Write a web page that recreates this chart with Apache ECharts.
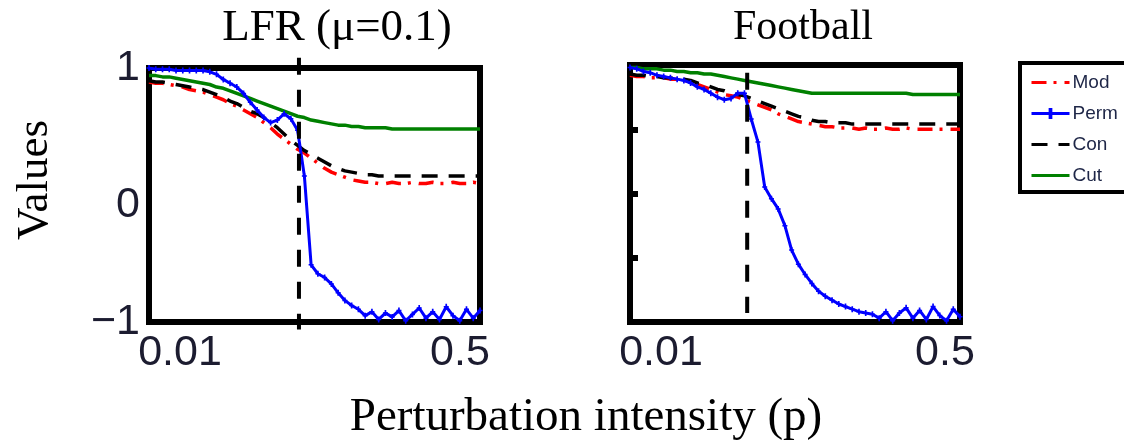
<!DOCTYPE html>
<html>
<head>
<meta charset="utf-8">
<script src="https://cdn.jsdelivr.net/npm/echarts@6/dist/echarts.min.js"></script>
<style>html,body{margin:0;padding:0;background:#fff}#c{width:1124px;height:441px}</style>
</head>
<body>
<div id="c"></div>
<script>
// ---- data ----
const pValues = [0.01,0.02,0.03,0.04,0.05,0.06,0.07,0.08,0.09,0.10,
  0.11,0.12,0.13,0.14,0.15,0.16,0.17,0.18,0.19,0.20,
  0.21,0.22,0.23,0.24,0.25,0.26,0.27,0.28,0.29,0.30,
  0.31,0.32,0.33,0.34,0.35,0.36,0.37,0.38,0.39,0.40,
  0.41,0.42,0.43,0.44,0.45,0.46,0.47,0.48,0.49,0.50];

const panelTitles = ['LFR (μ=0.1)', 'Football'];
const seriesNames = ['Mod', 'Perm', 'Con', 'Cut'];
const yTickValues = [-1, 0, 1];
const yTickLabels = ['−1', '0', '1'];
const xTickValues = [0.01, 0.5];
const xTickLabels = ['0.01', '0.5'];
const thresholdLFR = 0.232;
const thresholdFootball = 0.184;
const thresholdSpanLFR = [1.08, -1.06];
const thresholdSpanFootball = [0.94, -0.93];

const lfrMod = [0.89,0.88,0.88,0.87,0.86,0.85,0.83,0.82,0.81,0.79,
  0.77,0.75,0.72,0.70,0.67,0.64,0.61,0.57,0.53,0.48,
  0.44,0.40,0.36,0.33,0.29,0.25,0.21,0.18,0.16,0.14,
  0.12,0.11,0.10,0.10,0.09,0.09,0.10,0.09,0.09,0.10,
  0.09,0.09,0.10,0.09,0.09,0.10,0.09,0.09,0.10,0.09];
const lfrPerm = [1.00,0.99,0.99,0.99,0.98,0.98,0.98,0.98,0.98,0.97,
  0.95,0.91,0.88,0.85,0.80,0.73,0.67,0.61,0.57,0.59,
  0.64,0.60,0.51,0.15,-0.55,-0.62,-0.65,-0.70,-0.77,-0.83,
  -0.87,-0.90,-0.95,-0.92,-0.98,-0.93,-0.96,-0.91,-0.99,-0.94,
  -0.89,-0.97,-0.92,-0.98,-0.88,-0.95,-0.99,-0.90,-0.97,-0.91];
const lfrCon = [0.90,0.89,0.89,0.88,0.87,0.86,0.85,0.84,0.83,0.81,
  0.79,0.77,0.74,0.72,0.69,0.66,0.64,0.61,0.57,0.53,
  0.48,0.43,0.39,0.35,0.32,0.29,0.26,0.23,0.21,0.19,
  0.18,0.17,0.16,0.16,0.15,0.15,0.15,0.15,0.15,0.15,
  0.15,0.15,0.15,0.15,0.15,0.15,0.15,0.15,0.15,0.15];
const lfrCut = [0.94,0.94,0.93,0.93,0.92,0.91,0.90,0.89,0.88,0.87,
  0.85,0.84,0.82,0.80,0.78,0.76,0.74,0.72,0.70,0.68,
  0.66,0.64,0.62,0.61,0.59,0.58,0.57,0.56,0.55,0.55,
  0.54,0.54,0.53,0.53,0.53,0.53,0.52,0.52,0.52,0.52,
  0.52,0.52,0.52,0.52,0.52,0.52,0.52,0.52,0.52,0.52];

const fbMod = [0.92,0.91,0.91,0.90,0.90,0.90,0.89,0.89,0.88,0.87,
  0.85,0.83,0.81,0.79,0.77,0.76,0.75,0.73,0.71,0.69,
  0.67,0.65,0.62,0.60,0.58,0.56,0.55,0.54,0.53,0.52,
  0.52,0.51,0.51,0.51,0.50,0.51,0.50,0.50,0.51,0.50,
  0.50,0.51,0.50,0.50,0.50,0.50,0.50,0.50,0.50,0.50];
const fbPerm = [0.98,0.97,0.95,0.94,0.92,0.91,0.90,0.89,0.88,0.86,
  0.83,0.81,0.78,0.75,0.73,0.74,0.78,0.78,0.58,0.40,
  0.05,-0.04,-0.12,-0.25,-0.44,-0.55,-0.63,-0.70,-0.76,-0.80,
  -0.83,-0.86,-0.88,-0.90,-0.92,-0.93,-0.94,-0.97,-0.92,-0.99,
  -0.93,-0.89,-0.97,-0.91,-0.98,-0.88,-0.95,-0.99,-0.90,-0.96];
const fbCon = [0.93,0.92,0.92,0.91,0.91,0.90,0.90,0.89,0.89,0.88,
  0.86,0.85,0.83,0.81,0.80,0.78,0.77,0.76,0.74,0.72,
  0.70,0.68,0.66,0.64,0.62,0.60,0.59,0.57,0.56,0.56,
  0.55,0.55,0.55,0.54,0.54,0.54,0.54,0.54,0.54,0.54,
  0.54,0.54,0.54,0.54,0.54,0.54,0.54,0.54,0.54,0.54];
const fbCut = [0.98,0.98,0.97,0.97,0.97,0.96,0.96,0.95,0.95,0.94,
  0.94,0.93,0.93,0.92,0.91,0.90,0.89,0.88,0.87,0.86,
  0.85,0.84,0.83,0.82,0.81,0.80,0.79,0.78,0.78,0.78,
  0.78,0.78,0.78,0.78,0.78,0.78,0.78,0.78,0.78,0.78,
  0.78,0.78,0.77,0.77,0.77,0.77,0.77,0.77,0.77,0.77];

// ---- chart ----
const pair = arr => pValues.map((p, i) => [p, arr[i]]);
const SANS = '"Liberation Sans", Arial, sans-serif';
const SERIF = '"Liberation Serif", "Times New Roman", serif';
const TICK_COLOR = '#1c1c30';
const PLUS = 'path://M2,0h2v8h-2z M0,3h6v2h-6z';

const styles = {
  Mod:  {color: '#ff0000', lineStyle: {color: '#ff0000', width: 3.5, type: [15, 7, 3, 8]}, symbol: 'none'},
  Perm: {color: '#0000ff', lineStyle: {color: '#0000ff', width: 3}, symbol: PLUS, symbolSize: [5, 6], showSymbol: true, itemStyle: {color: '#0000ff'}},
  Con:  {color: '#000000', lineStyle: {color: '#000000', width: 3.5, type: [16, 11]}, symbol: 'none'},
  Cut:  {color: '#008000', lineStyle: {color: '#008000', width: 3.5}, symbol: 'none'}
};

function panelSeries(idx, arrs) {
  const order = ['Mod', 'Con', 'Cut', 'Perm'];
  return order.map(name => Object.assign({
    type: 'line', name: name, xAxisIndex: idx, yAxisIndex: idx,
    data: pair(arrs[name]), animation: false, silent: true
  }, styles[name]));
}

function xLabelFormatter(richRight) {
  return v => {
    const i = xTickValues.indexOf(Math.round(v * 100) / 100);
    if (i < 0) return '';
    return i === 0 ? '{a|' + xTickLabels[0] + '}' : '{' + richRight + '|' + xTickLabels[1] + '}';
  };
}
const richBase = {fontSize: 43, fontFamily: SANS, color: TICK_COLOR};
const xRich = {
  a: Object.assign({padding: [0, 0, 0, 62]}, richBase),
  b: Object.assign({padding: [0, 40, 0, 0]}, richBase),
  c: Object.assign({padding: [0, 30, 0, 0]}, richBase)
};

const chart = echarts.init(document.getElementById('c'), null, {renderer: 'canvas'});
const option = {
  backgroundColor: '#ffffff',
  animation: false,
  grid: [
    {left: 149, top: 68, width: 331, height: 254, show: true, borderColor: '#000', borderWidth: 6, backgroundColor: 'transparent'},
    {left: 630, top: 65, width: 330, height: 257, show: true, borderColor: '#000', borderWidth: 6, backgroundColor: 'transparent'}
  ],
  xAxis: [0, 1].map(i => ({
    gridIndex: i, type: 'value', min: 0.01, max: 0.5,
    axisLine: {show: false}, axisTick: {show: false}, splitLine: {show: false},
    axisLabel: {customValues: xTickValues, margin: 10, formatter: xLabelFormatter(i === 0 ? 'b' : 'c'), rich: xRich, fontSize: 43, fontFamily: SANS, color: TICK_COLOR}
  })),
  yAxis: [
    {gridIndex: 0, type: 'value', min: -1, max: 1, interval: 1,
     axisLine: {show: false}, axisTick: {show: false}, splitLine: {show: false},
     axisLabel: {margin: 9, fontSize: 43, fontFamily: SANS, color: TICK_COLOR,
       formatter: v => { const i = yTickValues.indexOf(v); if (i < 0) return ''; return v === 0 ? '{z|' + yTickLabels[i] + '}' : yTickLabels[i]; },
       rich: {z: Object.assign({padding: [20, 0, 0, 0]}, richBase)}}},
    {gridIndex: 1, type: 'value', min: -1, max: 1, interval: 0.5,
     axisLine: {show: false}, splitLine: {show: false}, axisLabel: {show: false},
     axisTick: {show: true, inside: true, length: 8, lineStyle: {color: '#000', width: 6}}}
  ],
  legend: {
    data: [
      {name: 'Mod', itemStyle: {opacity: 0}},
      {name: 'Perm'},
      {name: 'Con', itemStyle: {opacity: 0}},
      {name: 'Cut', itemStyle: {opacity: 0}}
    ],
    orient: 'vertical', left: 1030, top: 73, z: 10,
    itemWidth: 38, itemHeight: 14, itemGap: 12, padding: 0,
    lineStyle: {width: 3},
    textStyle: {fontSize: 19, fontFamily: SANS, color: '#1e2647', padding: [0, 0, 0, -2]}, selectedMode: false
  },
  series: [
    ...panelSeries(0, {Mod: lfrMod, Perm: lfrPerm, Con: lfrCon, Cut: lfrCut}),
    ...panelSeries(1, {Mod: fbMod, Perm: fbPerm, Con: fbCon, Cut: fbCut}),
    {type: 'line', name: 'thresholdLFR', xAxisIndex: 0, yAxisIndex: 0, clip: false, symbol: 'none', silent: true, z: 5,
     data: thresholdSpanLFR.map(v => [thresholdLFR, v]), lineStyle: {color: '#000', width: 4, type: [17, 15]}},
    {type: 'line', name: 'thresholdFootball', xAxisIndex: 1, yAxisIndex: 1, clip: false, symbol: 'none', silent: true, z: 5,
     data: thresholdSpanFootball.map(v => [thresholdFootball, v]), lineStyle: {color: '#000', width: 4, type: [17, 15]}}
  ],
  graphic: [
    {type: 'rect', z: 1, silent: true, shape: {x: 1020, y: 63, width: 130, height: 129}, style: {fill: '#fff', stroke: '#000', lineWidth: 4}},
    {type: 'text', x: 337, y: 28, style: {text: panelTitles[0], font: '45px ' + SERIF, fill: '#000', align: 'center', verticalAlign: 'middle', textAlign: 'center', textVerticalAlign: 'middle'}},
    {type: 'text', x: 803, y: 28, style: {text: panelTitles[1], font: '42px ' + SERIF, fill: '#000', align: 'center', verticalAlign: 'middle', textAlign: 'center', textVerticalAlign: 'middle'}},
    {type: 'text', x: 35, y: 180, rotation: Math.PI / 2, style: {text: 'Values', font: '45px ' + SERIF, fill: '#000', align: 'center', verticalAlign: 'middle', textAlign: 'center', textVerticalAlign: 'middle'}},
    {type: 'text', x: 586, y: 418, style: {text: 'Perturbation intensity (p)', font: '47px ' + SERIF, fill: '#000', align: 'center', verticalAlign: 'middle', textAlign: 'center', textVerticalAlign: 'middle'}}
  ]
};
chart.setOption(option);
</script>
</body>
</html>
